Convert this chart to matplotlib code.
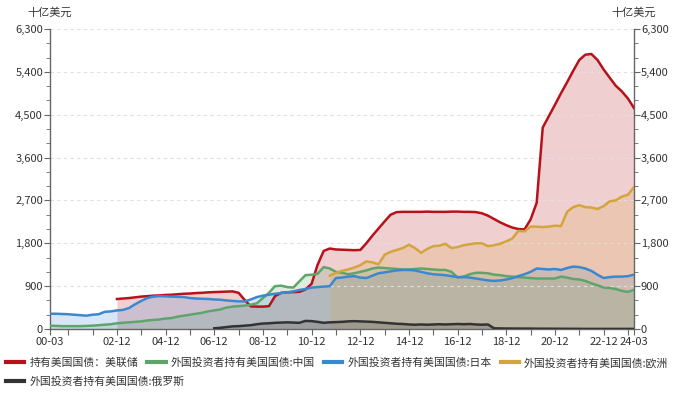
"""
US Treasury holdings: Fed vs. major foreign holders (quarterly, bn USD).
Filled line chart with mirrored y axis, legend flowing under the plot.
"""
import numpy as np
import pandas as pd
import matplotlib
matplotlib.use("Agg")
import matplotlib.pyplot as plt
from matplotlib.ticker import FuncFormatter, MultipleLocator

plt.rcParams["font.family"] = ["Noto Sans CJK SC", "DejaVu Sans"]

NA = np.nan

# quarter ends 2000-03 .. 2024-03 (97 points)
DATES = pd.date_range("2000-03-31", "2024-03-31", freq="QE")

FED = [NA] * 11 + [
    630, 640, 650, 665, 680, 690, 700, 705, 715, 720, 730, 740, 745,
    755, 760, 770, 775, 780, 785, 790, 760, 610, 475, 470, 470, 480,
    690, 760, 770, 775, 780, 830, 950, 1350, 1640, 1690, 1670, 1665,
    1660, 1655, 1660, 1800, 1960, 2110, 2260, 2400, 2455, 2460, 2460,
    2460, 2460, 2465, 2460, 2460, 2460, 2465, 2465, 2460, 2460, 2455,
    2430, 2380, 2310, 2240, 2180, 2130, 2100, 2090, 2300, 2650, 4230,
    4470, 4710, 4950, 5180, 5420, 5650, 5760, 5775, 5650, 5450, 5280,
    5110, 4990, 4840, 4640]

CHINA = [
    70, 65, 60, 60, 60, 60, 65, 70, 80, 90, 100, 120, 130, 140, 150, 160,
    180, 190, 200, 220, 230, 260, 280, 300, 320, 340, 370, 390, 410, 450,
    470, 480, 490, 510, 540, 650, 760, 900, 910, 880, 870, 1000, 1130,
    1140, 1160, 1300, 1270, 1200, 1180, 1150, 1170, 1200, 1230, 1270,
    1290, 1280, 1270, 1260, 1250, 1250, 1260, 1270, 1260, 1250, 1240,
    1240, 1200, 1080, 1100, 1150, 1180, 1180, 1170, 1140, 1130, 1110,
    1100, 1090, 1080, 1070, 1060, 1060, 1060, 1060, 1100, 1080, 1050,
    1040, 1010, 960, 920, 870, 860, 840, 800, 780, 820]

JAPAN = [
    320, 320, 315, 310, 300, 290, 280, 300, 310, 360, 370, 390, 400, 440,
    520, 590, 650, 680, 690, 685, 680, 675, 670, 650, 640, 635, 630, 620,
    615, 600, 590, 580, 580, 620, 670, 700, 720, 740, 755, 770, 790, 820,
    840, 870, 880, 890, 900, 1070, 1080, 1100, 1110, 1080, 1070, 1120,
    1170, 1190, 1210, 1230, 1240, 1240, 1230, 1200, 1170, 1150, 1140,
    1130, 1110, 1090, 1090, 1080, 1060, 1040, 1020, 1010, 1020, 1040,
    1070, 1110, 1150, 1200, 1270, 1260, 1250, 1260, 1240, 1280, 1310,
    1300, 1270, 1220, 1140, 1070, 1090, 1100, 1100, 1110, 1140]

EUROPE = [NA] * 46 + [
    1120, 1180, 1220, 1250, 1290, 1340, 1420, 1400, 1360, 1560, 1620,
    1660, 1700, 1770, 1700, 1600, 1680, 1740, 1750, 1790, 1700, 1720,
    1760, 1780, 1800, 1800, 1740, 1760, 1790, 1840, 1900, 2060, 2050,
    2150, 2150, 2140, 2150, 2170, 2160, 2460, 2560, 2600, 2560, 2550,
    2520, 2580, 2680, 2700, 2780, 2820, 2980]

RUSSIA = [NA] * 27 + [
    15, 25, 40, 55, 60, 70, 80, 100, 115, 120, 130, 135, 140, 135, 130,
    170, 165, 150, 130, 140, 145, 150, 160, 165, 160, 155, 150, 140, 130,
    120, 110, 105, 95, 90, 95, 90, 95, 100, 95, 100, 105, 100, 105, 95,
    90, 95, 15, 12, 10, 10, 9, 9, 8, 7, 6, 6, 5, 5, 4, 4, 3, 2, 2, 2, 2,
    2, 2, 2, 2, 2]

SERIES = [
    ("持有美国国债：美联储", FED, "#B5121B"),
    ("外国投资者持有美国国债:中国", CHINA, "#5FA56B"),
    ("外国投资者持有美国国债:日本", JAPAN, "#3C88CF"),
    ("外国投资者持有美国国债:欧洲", EUROPE, "#D4A43D"),
    ("外国投资者持有美国国债:俄罗斯", RUSSIA, "#333333"),
]

TICK_DATES = ([pd.Timestamp("2000-03-31")]
              + [pd.Timestamp(f"{y}-12-31") for y in range(2000, 2024)]
              + [pd.Timestamp("2024-03-31")])
TICK_LABELS = (["00-03"]
               + [f"{y % 100:02d}-12" if y % 2 == 0 and y >= 2002 else ""
                  for y in range(2000, 2024)]
               + ["24-03"])

TXT = "#333333"
AXC = "#666666"


def build():
    fig = plt.figure(figsize=(6.97, 3.94), dpi=100)
    ax = fig.add_axes([50 / 697, 1 - 329 / 394, 584 / 697, 300 / 394])

    lines = []
    for name, vals, col in SERIES:
        v = np.array(vals, dtype=float)
        ax.fill_between(DATES, 0, v, where=~np.isnan(v), color=col,
                        alpha=0.2, linewidth=0, zorder=1)
    for name, vals, col in SERIES:
        ln, = ax.plot(DATES, vals, color=col, lw=1.8, label=name, zorder=3)
        lines.append(ln)

    ax.set_xlim(DATES[0], DATES[-1])
    ax.set_ylim(0, 6300)
    ax.yaxis.set_major_locator(MultipleLocator(900))
    ax.yaxis.set_minor_locator(MultipleLocator(300))
    ax.yaxis.set_major_formatter(FuncFormatter(lambda v, p: f"{v:,.0f}"))
    ax.set_xticks(TICK_DATES, TICK_LABELS)

    ax.grid(axis="y", which="major", color="#e0e0e0", ls=(0, (3, 3)),
            lw=0.8, zorder=0)
    ax.tick_params(axis="y", which="both", left=True, right=True,
                   labelleft=True, labelright=True, direction="out",
                   colors=AXC, labelcolor=TXT, labelsize=8, pad=1)
    ax.tick_params(axis="y", which="major", length=4)
    ax.tick_params(axis="y", which="minor", length=3)
    ax.tick_params(axis="x", direction="out", length=4, colors=AXC,
                   labelcolor=TXT, labelsize=8, pad=2)
    ax.spines["top"].set_visible(False)
    for s in ("left", "right", "bottom"):
        ax.spines[s].set_color(AXC)
        ax.spines[s].set_linewidth(1)

    # unit labels above both axes
    fig.text(50 / 697, 1 - 13 / 394, "十亿美元", ha="center", va="center",
             fontsize=8, color=TXT)
    fig.text(634 / 697, 1 - 13 / 394, "十亿美元", ha="center", va="center",
             fontsize=8, color=TXT)

    # legend flows over two rows
    kw = dict(frameon=False, fontsize=7.8, handlelength=1.7,
              handletextpad=0.45, columnspacing=0.85, labelcolor=TXT,
              borderaxespad=0, borderpad=0)
    fig.legend(lines[:4], [s[0] for s in SERIES[:4]], ncol=4,
               loc="center left", bbox_to_anchor=(6 / 697, 1 - 363 / 394),
               **kw)
    fig.legend(lines[4:], [SERIES[4][0]], ncol=1,
               loc="center left", bbox_to_anchor=(6 / 697, 1 - 382 / 394),
               **kw)
    for lg in fig.legends:
        for h in lg.legend_handles:
            h.set_linewidth(3)
    return fig


def main():
    fig = build()
    fig.savefig("out.png", dpi=100, facecolor="white")
    plt.close(fig)


if __name__ == "__main__":
    main()
